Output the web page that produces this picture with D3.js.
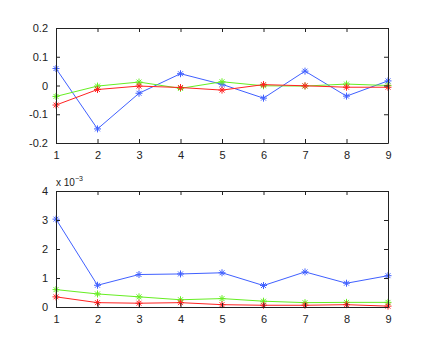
<!DOCTYPE html>
<html>
<head>
<meta charset="utf-8">
<script src="https://cdn.jsdelivr.net/npm/d3@7"></script>
<style>
  body { margin: 0; background: #fff; }
  text { font-family: "Liberation Sans", Arial, sans-serif; font-size: 11px; fill: #222; }
</style>
</head>
<body>
<div id="chart"></div>
<script>
const width = 429,
  height = 346;

const xValues = [1, 2, 3, 4, 5, 6, 7, 8, 9];

// top panel
const topBlue = [0.059, -0.151, -0.027, 0.041, 0.004, -0.044, 0.05, -0.037, 0.016];
const topGreen = [-0.038, -0.002, 0.012, -0.01, 0.013, -0.001, -0.002, 0.005, 0.0];
const topRed = [-0.068, -0.014, -0.002, -0.007, -0.016, 0.003, -0.001, -0.006, -0.006];
const topTicks = [-0.2, -0.1, 0, 0.1, 0.2];

// bottom panel (x 10^-3)
const botBlue = [3.03, 0.75, 1.12, 1.14, 1.18, 0.74, 1.21, 0.82, 1.08];
const botGreen = [0.6, 0.45, 0.35, 0.25, 0.29, 0.2, 0.15, 0.16, 0.16];
const botRed = [0.35, 0.15, 0.13, 0.15, 0.08, 0.06, 0.06, 0.08, 0.03];
const botTicks = [0, 1, 2, 3, 4];

const colors = { blue: "#4060ff", green: "#66ee22", red: "#ff2222" };

const svg = d3.select("#chart").append("svg")
  .attr("width", width)
  .attr("height", height);

const xScale = d3.scaleLinear().domain([1, 9]).range([56, 388]);

const asterisk = (g, x, y, color) => {
  const r = 3.5;
  const path = `M${x - r},${y}L${x + r},${y}M${x},${y - r}L${x},${y + r}` +
    `M${x - r * 0.7},${y - r * 0.7}L${x + r * 0.7},${y + r * 0.7}` +
    `M${x - r * 0.7},${y + r * 0.7}L${x + r * 0.7},${y - r * 0.7}`;
  g.append("path").attr("d", path).attr("stroke", color).attr("stroke-width", 1).attr("fill", "none");
};

const drawPanel = (top, bottom, domain, ticks, fmt, series) => {
  const yScale = d3.scaleLinear().domain(domain).range([bottom, top]);
  const g = svg.append("g");

  const line = d3.line().x((d, i) => xScale(xValues[i])).y((d) => yScale(d));

  series.forEach(([data, color]) => {
    g.append("path")
      .datum(data)
      .attr("d", line)
      .attr("fill", "none")
      .attr("stroke", color)
      .attr("stroke-width", 1);
    data.forEach((d, i) => asterisk(g, xScale(xValues[i]), yScale(d), color));
  });

  // axes with inward ticks
  g.append("g")
    .attr("transform", `translate(0,${bottom})`)
    .call(d3.axisBottom(xScale).tickValues(xValues).tickSizeInner(-4).tickSizeOuter(0).tickPadding(8).tickFormat(d3.format("d")));
  g.append("g")
    .attr("transform", `translate(0,${top})`)
    .call(d3.axisTop(xScale).tickValues(xValues).tickSizeInner(-4).tickSizeOuter(0).tickFormat(""));
  g.append("g")
    .attr("transform", "translate(56,0)")
    .call(d3.axisLeft(yScale).tickValues(ticks).tickSizeInner(-4).tickSizeOuter(0).tickPadding(8).tickFormat(fmt));
  g.append("g")
    .attr("transform", "translate(388,0)")
    .call(d3.axisRight(yScale).tickValues(ticks).tickSizeInner(-4).tickSizeOuter(0).tickFormat(""));

  g.selectAll(".domain").attr("stroke", "#222");
  g.selectAll(".tick line").attr("stroke", "#222");
  g.selectAll(".tick text").attr("fill", "#222").style("font-size", "11px");
  return g;
};

drawPanel(28, 143, [-0.2, 0.2], topTicks, (d) => (d === 0 ? "0" : d3.format(".1f")(d).replace("\u2212", "-")), [
  [topBlue, colors.blue],
  [topGreen, colors.green],
  [topRed, colors.red],
]);

const bot = drawPanel(191, 307, [0, 4], botTicks, d3.format("d"), [
  [botBlue, colors.blue],
  [botGreen, colors.green],
  [botRed, colors.red],
]);

const expo = bot.append("text").attr("x", 56).attr("y", 186).style("font-size", "10px");
expo.append("tspan").text("x 10");
expo.append("tspan").attr("dy", -5).style("font-size", "7px").text("\u22123");
</script>
</body>
</html>
